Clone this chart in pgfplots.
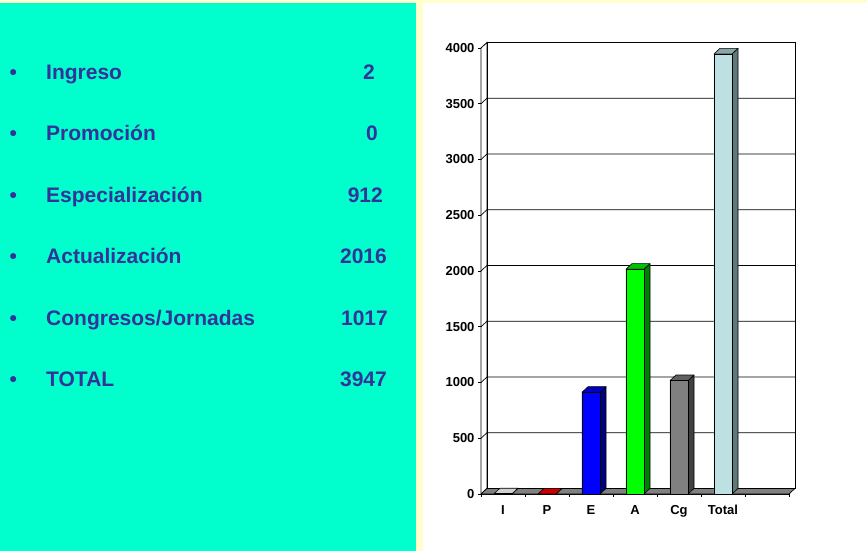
\documentclass[border=0pt]{standalone}
\usepackage{pgfplots}
\pgfplotsset{compat=1.18}
\usepackage{fontspec}
\setmainfont{Liberation Sans}
\definecolor{aqua}{HTML}{00FFCC}
\definecolor{bgyellow}{HTML}{FFFFCC}
\definecolor{txtblue}{HTML}{333399}
\definecolor{floorgray}{HTML}{808080}
\definecolor{iF}{HTML}{C0C0C0}\definecolor{iS}{HTML}{808080}\definecolor{iT}{HTML}{D0D0D0}
\definecolor{pF}{HTML}{FF0000}\definecolor{pS}{HTML}{800000}\definecolor{pT}{HTML}{CC0000}
\definecolor{eF}{HTML}{0000FF}\definecolor{eS}{HTML}{000080}\definecolor{eT}{HTML}{0000C0}
\definecolor{aF}{HTML}{00FF00}\definecolor{aS}{HTML}{008000}\definecolor{aT}{HTML}{00C000}
\definecolor{cF}{HTML}{808080}\definecolor{cS}{HTML}{404040}\definecolor{cT}{HTML}{606060}
\definecolor{tF}{HTML}{BDE0E3}\definecolor{tS}{HTML}{5F7A7A}\definecolor{tT}{HTML}{8AA5A8}
\newcommand{\dx}{0.136}
\newcommand{\dy}{50}
\newcommand{\hw}{0.205}
\newcommand{\tdbar}[5]{%
  \pgfmathsetmacro\xl{#1-\hw}%
  \pgfmathsetmacro\xr{#1+\hw}%
  \pgfmathsetmacro\xlb{#1-\hw+\dx}%
  \pgfmathsetmacro\xrb{#1+\hw+\dx}%
  \pgfmathsetmacro\vb{#2+\dy}%
  \addplot[fill=#4,draw=black,line width=0.6pt,line join=round] coordinates {(\xr,0) (\xrb,\dy) (\xrb,\vb) (\xr,#2) (\xr,0)};
  \addplot[fill=#5,draw=black,line width=0.6pt,line join=round] coordinates {(\xl,#2) (\xr,#2) (\xrb,\vb) (\xlb,\vb) (\xl,#2)};
  \addplot[fill=#3,draw=black,line width=0.6pt,line join=round] coordinates {(\xl,0) (\xr,0) (\xr,#2) (\xl,#2) (\xl,0)};
}
\newcommand{\gridline}[1]{%
  \pgfmathsetmacro\gv{#1+\dy}%
  \addplot[black,line width=0.7pt] coordinates {(-0.5,#1) (-0.364,\gv) (6.636,\gv)};
}
\begin{document}
\begin{tikzpicture}
\fill[bgyellow] (0,0) rectangle (867pt,-551pt);
\fill[aqua] (0,-3pt) rectangle (416pt,-551pt);
\fill[white] (423pt,-3pt) rectangle (867pt,-551pt);
\begin{scope}[every node/.style={inner sep=0pt, text=txtblue, font=\bfseries\fontsize{21}{25}\selectfont}]
\foreach \yy/\lab/\num/\nx in {79/Ingreso/2/375, 140.5/Promoción/0/378, 202/Especialización/912/383, 263.5/Actualización/2016/387, 325/Congresos\slash Jornadas/1017/388, 386.5/TOTAL/3947/387}{
  \node[anchor=base west] at (9.3pt,-\yy pt) {•};
  \node[anchor=base west] at (46pt,-\yy pt) {\lab};
  \node[anchor=base east] at (\nx pt,-\yy pt) {\num};
}
\end{scope}
\begin{axis}[
  at={(481pt,-494pt)}, anchor=south west,
  scale only axis, width=308pt, height=446pt,
  xmin=-0.5, xmax=6.5, ymin=0, ymax=4000,
  clip=false,
  axis x line*=bottom, axis y line*=left,
  axis line style={black, line width=0.8pt},
  xtick={-0.5,0.5,...,6.5}, xticklabels={},
  extra x ticks={0,1,2,3,4,5}, extra x tick labels={I,P,E,A,Cg,Total},
  extra x tick style={major tick length=0pt, xticklabel style={yshift=-8pt}},
  ytick={0,500,...,4000},
  tick align=outside, major tick length=3pt,
  tick style={black, line width=0.7pt},
  ticklabel style={font=\bfseries\fontsize{13}{15}\selectfont, text=black},
  /pgf/number format/assume math mode=true,
  /pgf/number format/1000 sep={},
]
% back wall and left wall
\addplot[fill=white,draw=black,line width=0.8pt] coordinates {(-0.364,50) (6.636,50) (6.636,4050) (-0.364,4050) (-0.364,50)};
\addplot[fill=white,draw=black,line width=0.8pt] coordinates {(-0.5,0) (-0.364,50) (-0.364,4050) (-0.5,4000) (-0.5,0)};
\gridline{500}
\gridline{1000}
\gridline{1500}
\gridline{2000}
\gridline{2500}
\gridline{3000}
\gridline{3500}
% floor
\addplot[fill=floorgray,draw=black,line width=0.7pt] coordinates {(-0.5,0) (6.5,0) (6.636,50) (-0.364,50) (-0.5,0)};
% bars: center, value, front, side, top
\tdbar{0}{2}{iF}{iS}{iT}
\tdbar{1}{0}{pF}{pS}{pT}
\tdbar{2}{912}{eF}{eS}{eT}
\tdbar{3}{2016}{aF}{aS}{aT}
\tdbar{4}{1017}{cF}{cS}{cT}
\tdbar{5}{3947}{tF}{tS}{tT}
\end{axis}
\pgfresetboundingbox
\useasboundingbox (0,0) rectangle (867pt,-551pt);
\end{tikzpicture}
\end{document}
